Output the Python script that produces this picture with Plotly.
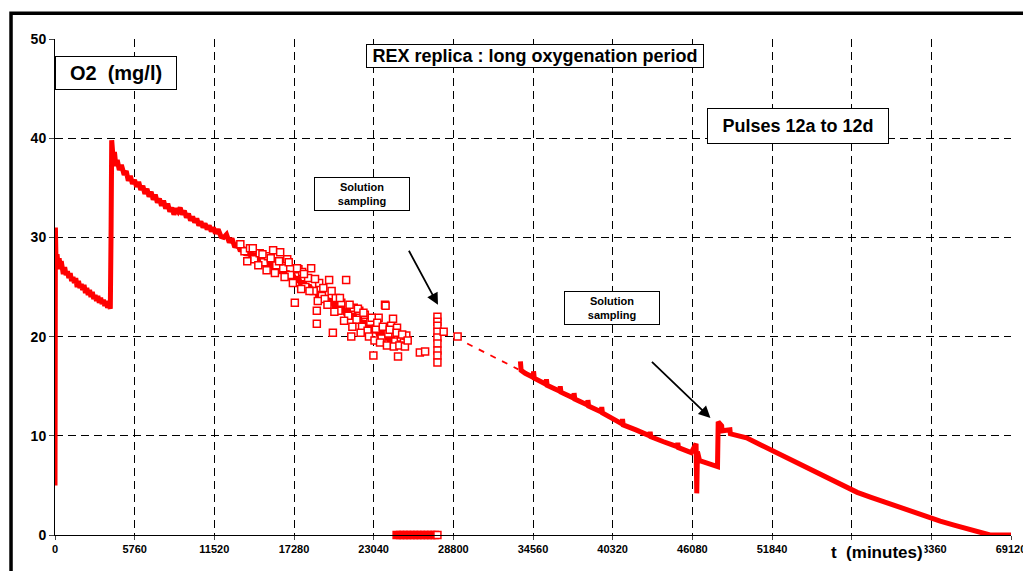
import plotly.graph_objects as go

# Continuous O2 record, first oxygenation (t in minutes, O2 in mg/l)
t_first = [0, 30, 80, 150, 220, 300, 380, 450, 530, 600, 700, 800, 900, 1000, 1100, 1200,
           1300, 1400, 1500, 1600, 1700, 1800, 1900, 2000, 2100, 2200, 2300, 2400, 2500,
           2600, 2700, 2800, 2900, 3000, 3100, 3200, 3300, 3400, 3500, 3600, 3700, 3800,
           3900, 4000, 4050, 4100,
           4200, 4300, 4400, 4500, 4650, 4800, 5000, 5150, 5300, 5450, 5600, 5750, 5900,
           6050, 6200, 6350, 6500, 6650, 6800, 6950, 7100, 7250, 7400, 7550, 7700, 7850,
           8000, 8150, 8300, 8450, 8600, 8750, 8900, 9050, 9200, 9350, 9500, 9650, 9800,
           9950, 10100, 10250, 10400, 10550, 10700, 10850, 11000, 11150, 11300, 11450,
           11600, 11800, 12000, 12200, 12400, 12600, 12800, 13000, 13200, 13400, 13600,
           13800, 14000, 14200, 14400, 14600, 14800, 15000, 15200, 15400, 15600, 15800,
           16000, 16200, 16400, 16600, 16800, 17000, 17200, 17400, 17600, 17800, 18000,
           18200, 18400, 18600, 18800, 19000, 19200, 19400, 19600, 19800, 20000, 20200,
           20400, 20600, 20800, 21000, 21200, 21400, 21600, 21800, 22000, 22200, 22400,
           22600, 22800, 23000, 23200, 23400, 23600, 23800, 24000, 24200, 24400, 24600,
           24900]
o2_first = [5, 31, 27.0, 28.3, 27.2, 27.9, 26.8, 27.6, 26.9, 26.3, 27.0, 26.2, 26.6, 25.9,
            26.4, 25.6, 26.0, 25.4, 25.9, 25.0, 25.6, 24.9, 25.3, 24.7, 25.2, 24.4, 24.9,
            24.2, 24.7, 24.0, 24.5, 23.8, 24.2, 23.6, 24.1, 23.4, 23.9, 23.3, 23.7, 23.1,
            23.6, 22.9, 23.4, 22.8, 30.0, 39.8,
            38.0, 38.6, 37.2, 37.8, 36.8, 37.3, 36.3, 36.7, 35.7, 36.2, 35.4, 35.8, 35.1,
            35.6, 34.8, 35.2, 34.4, 34.9, 34.1, 34.6, 33.8, 34.3, 33.5, 33.9, 33.2, 33.7,
            32.9, 33.4, 32.6, 33.0, 32.3, 32.9, 32.6, 33.0, 32.3, 32.7, 32.0, 32.4, 31.7,
            32.1, 31.5, 31.9, 31.2, 31.6, 31.0, 31.4, 30.8, 31.2, 30.6, 31.0,
            30.4, 30.8, 30.1, 30.0, 30.3, 29.5, 29.9, 29.0, 29.4, 28.6, 29.0,
            28.2, 28.7, 27.9, 28.4, 27.6, 28.1, 27.3, 27.8, 27.0, 27.5, 26.8,
            27.2, 26.4, 26.9, 26.1, 26.6, 25.8, 26.3, 25.5, 26.0, 25.1, 25.6,
            24.8, 25.2, 24.4, 24.9, 24.0, 24.5, 23.7, 24.1, 23.3, 23.8, 22.9,
            23.4, 22.6, 23.0, 22.2, 22.7, 21.8, 22.3, 21.5, 21.9, 21.1, 21.6,
            20.7, 21.2, 20.4, 20.9, 20.1, 20.5, 19.7, 20.2, 19.4, 19.9, 19.2,
            19.6]

# Gap bridged with dashed line
t_gap = [29800, 33500]
o2_gap = [19.3, 16.7]

# Continuous O2 record, second part (pulses 12a to 12d)
t_second = [33650, 33700, 34000, 34570, 34600, 34650, 35500, 35530, 35580, 36500, 36530,
            36580, 37500, 37530, 37580, 38500, 38530, 38580, 39500, 39530, 39580, 40350,
            41000, 41030, 41080, 42000, 43000, 43030, 43080, 44000, 45000, 45030, 45080,
            46000, 46350, 46400, 46450, 46600, 47000, 47500, 47900, 47950, 48200, 48230,
            48800, 48830, 50000, 51000, 51710, 53000, 54000, 55000, 56000, 57000, 58000,
            59000, 60000, 61000, 62000, 63000, 64000, 65000, 66000, 67000, 67600, 69120]
o2_second = [17.5, 16.6, 16.3, 15.9, 16.5, 15.8, 15.2, 15.7, 15.1, 14.5, 15.0,
             14.4, 13.8, 14.3, 13.7, 13.1, 13.6, 13.0, 12.4, 12.9, 12.3, 11.7,
             11.2, 11.7, 11.1, 10.6, 10.0, 10.4, 9.9, 9.4, 8.9, 9.3, 8.8,
             8.3, 9.2, 4.2, 8.4, 7.5, 7.3, 7.1, 6.9, 11.4, 11.0, 10.5,
             10.6, 10.2, 9.8, 9.1, 8.6, 7.7, 7.0, 6.3, 5.6, 4.9, 4.3,
             3.8, 3.3, 2.8, 2.3, 1.9, 1.4, 1.0, 0.6, 0.2, 0.0, 0.0]

# Individual measurements (open squares)
t_pts = [13400, 13700, 14100, 14400, 14800, 15100, 15400, 15770, 16000, 16280, 16500,
         16790, 17000, 17340, 17600, 17870, 18100, 18300, 18520, 18700, 18930, 18930,
         19100, 19300, 19500, 19820, 20090, 20300, 20500, 20700, 21050, 21200, 21420,
         21600, 21800, 22000, 22200, 22400, 22600, 22800, 23020, 23200, 23400, 23600,
         23860, 23900, 24100, 24300, 24440, 24600, 24730, 24800, 25000, 25230, 25400,
         26380, 26760, 27650, 27650, 27650, 27650, 27650, 27650, 27650, 27650, 27650,
         28100, 29110,
         13900, 14300, 14700, 15000, 15300, 15600, 15900, 16200, 16600, 16900, 17200,
         17500, 17800, 18000, 18400, 18800, 19000, 19400, 19700, 20000, 20200, 20600,
         20900, 21300, 21500, 21900, 22100, 22300, 22700, 22900, 23100, 23300, 23500,
         23700, 24000, 24200, 24500, 24700, 24900, 25100, 25300, 25500]
o2_pts = [29.3, 28.6, 28.9, 27.8, 28.4, 27.5, 28.1, 28.7, 27.2, 28.5, 26.9,
          27.8, 26.2, 23.4, 26.8, 26.5, 25.0, 25.9, 26.9, 24.6, 22.6, 21.3,
          25.4, 24.1, 23.8, 25.7, 20.4, 23.9, 22.6, 23.4, 25.7, 22.1, 20.0,
          22.9, 21.7, 22.6, 21.0, 22.2, 20.6, 21.5, 18.1, 20.8, 21.9, 19.8,
          23.2, 23.1, 20.3, 21.1, 21.8, 19.5, 20.9, 18.0, 19.9, 19.4, 20.1,
          18.4, 18.5, 22.0, 21.5, 21.1, 20.5, 19.9, 19.3, 18.6, 18.1, 17.4,
          20.5, 20.0,
          27.6, 28.9, 27.2, 28.3, 26.7, 27.9, 26.4, 27.6, 26.0, 27.5, 25.4,
          26.9, 24.8, 26.3, 24.6, 25.8, 23.6, 24.9, 23.2, 24.6, 22.5, 23.9,
          21.6, 23.2, 21.0, 22.8, 20.4, 22.4, 20.0, 21.9, 19.6, 21.4, 19.4,
          21.0, 19.1, 20.7, 19.0, 20.4, 19.1, 20.2, 19.0, 19.6]

# Zero readings during sampling
t_zero = [24700, 24950, 25200, 25450, 25700, 25950, 26200, 26450, 26700, 26950, 27200,
          27450, 27650]
o2_zero = [0] * len(t_zero)

x_ticks = [0, 5760, 11520, 17280, 23040, 28800, 34560, 40320, 46080, 51840, 57600,
           63360, 69120]
y_ticks = [0, 10, 20, 30, 40, 50]

RED = "#ff0000"
FONT = "Arial, Liberation Sans, sans-serif"

fig = go.Figure()

fig.add_trace(go.Scatter(x=t_first, y=o2_first, mode="lines",
                         line=dict(color=RED, width=5)))
fig.add_trace(go.Scatter(x=t_gap, y=o2_gap, mode="lines",
                         line=dict(color=RED, width=1.8, dash="6px,7px")))
fig.add_trace(go.Scatter(x=t_second, y=o2_second, mode="lines",
                         line=dict(color=RED, width=5)))
fig.add_trace(go.Scatter(x=t_pts, y=o2_pts, mode="markers",
                         marker=dict(symbol="square", size=7, color="white",
                                     line=dict(color=RED, width=1.5))))
zero_fill = [RED] * (len(t_zero) - 1) + ["white"]
fig.add_trace(go.Scatter(x=t_zero, y=o2_zero, mode="lines+markers", cliponaxis=False,
                         line=dict(color=RED, width=8),
                         marker=dict(symbol="square", size=7, color=zero_fill,
                                     line=dict(color=RED, width=1.5))))

fig.update_layout(
    width=1031, height=571,
    margin=dict(l=47, r=28, t=31, b=44),
    paper_bgcolor="white", plot_bgcolor="white",
    showlegend=False,
    font=dict(family=FONT, color="black"),
    xaxis=dict(range=[0, 69120], tickvals=x_ticks,
               ticktext=["<b>%d</b>" % v for v in x_ticks],
               tickfont=dict(size=11), ticks="outside", ticklen=4,
               showline=True, linecolor="black", linewidth=1,
               showgrid=True, gridcolor="black", gridwidth=1, griddash="8px,5px",
               zeroline=False),
    yaxis=dict(range=[0, 50], tickvals=y_ticks,
               ticktext=["<b>%d</b>" % v for v in y_ticks],
               tickfont=dict(size=14), ticks="outside", ticklen=5,
               showline=True, linecolor="black", linewidth=1,
               showgrid=True, gridcolor="black", gridwidth=1, griddash="8px,5px",
               zeroline=False),
)

# outer chart frame
fig.add_shape(type="rect", xref="paper", yref="paper",
              x0=-0.046, x1=1.2, y0=-0.3, y1=1.052,
              line=dict(color="black", width=3.5), layer="above")

box = dict(bgcolor="white", bordercolor="black", borderwidth=1, showarrow=False)
fig.add_annotation(x=4400, y=46.6, text="<b>O2  (mg/l)</b>", font=dict(size=20),
                   borderpad=5, width=110, **box)
fig.add_annotation(x=34740, y=48.3, text="<b>REX replica : long oxygenation period</b>",
                   font=dict(size=18), borderpad=1, width=334, **box)
fig.add_annotation(x=53750, y=41.2, text="<b>Pulses 12a to 12d</b>",
                   font=dict(size=18), borderpad=7, width=166, **box)
fig.add_annotation(x=22210, y=34.4, text="<b>Solution<br>sampling</b>",
                   font=dict(size=11), borderpad=3, width=88, **box)
fig.add_annotation(x=40240, y=22.9, text="<b>Solution<br>sampling</b>",
                   font=dict(size=11), borderpad=3, width=88, **box)

arrow = dict(showarrow=True, arrowhead=2, arrowsize=1.3, arrowwidth=1.8,
             arrowcolor="black", axref="x", ayref="y", text="")
fig.add_annotation(x=27690, y=23.2, ax=25530, ay=28.8, **arrow)
fig.add_annotation(x=47390, y=11.8, ax=43050, ay=17.6, **arrow)

fig.add_annotation(xref="paper", yref="paper", x=0.86, y=-0.036,
                   xanchor="center", yanchor="middle",
                   text="<b>t  (minutes)</b>", font=dict(size=17), showarrow=False,
                   bgcolor="white")

fig.write_html("out.html")
